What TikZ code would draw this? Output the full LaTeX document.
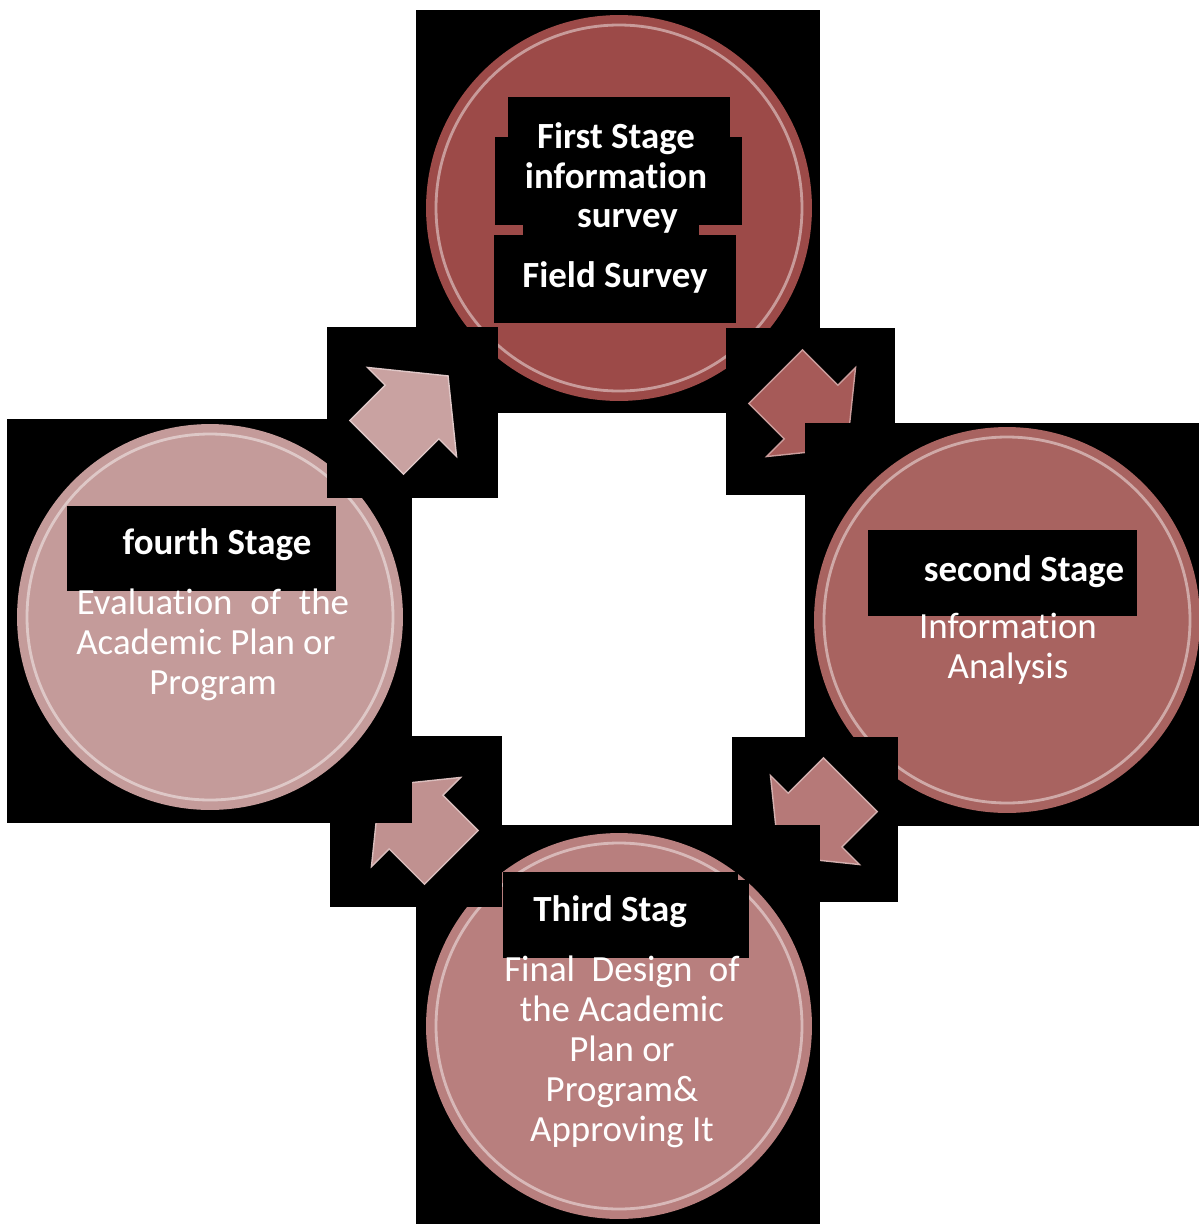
\documentclass[tikz,border=0pt]{standalone}
\usepackage{fontspec}
\setmainfont{Carlito}[Ligatures=NoCommon]
\usetikzlibrary{calc}
\definecolor{stageone}{RGB}{156,74,72}
\definecolor{stagetwo}{RGB}{168,99,96}
\definecolor{stagethree}{RGB}{184,127,126}
\definecolor{stagefour}{RGB}{196,155,154}
\definecolor{arrowne}{RGB}{201,162,161}
\definecolor{arrowse}{RGB}{166,90,88}
\definecolor{arrowsw}{RGB}{182,121,120}
\definecolor{arrownw}{RGB}{192,145,144}
\tikzset{
	every path/.style={thick},
	align=center,
	backdrop/.style={
		fill=black,
	},
	stage/.style={
		circle,
		inner sep=0pt,
		minimum size=7.72cm,
	},
	rim/.style={
		draw=white,
		opacity=0.45,
		line width=1.6pt,
	},
	tag/.style={
		text=white,
		font=\bfseries\fontsize{21}{22.7}\selectfont,
	},
	body/.style={
		text=white,
		font=\fontsize{21}{22.7}\selectfont,
	},
	flow/.style={
		fill=#1,
		draw=white!40!#1,
		line width=1pt,
	},
	flowarrow/.pic={
		\path[pic actions] (-50,-38) -- (0,-38) -- (0,-63) -- (51,0) -- (0,63) -- (0,38) -- (-50,38) -- cycle;
	},
}

\begin{document}
\begin{tikzpicture}[x=0.02cm,y=-0.02cm]
		\useasboundingbox (0,0) rectangle (1199,1224);
		\fill[white] (0,0) rectangle (1199,1224);

%********* first stage
		\fill[backdrop] (416,10) rectangle (820,413);
		\node[stage, fill=stageone] (first) at (619,208) {};
		\draw[rim] (first.center) circle[radius=183];
		\fill[backdrop] (508,97) rectangle (730,137);
		\fill[backdrop] (495,137) rectangle (742,225);
		\fill[backdrop] (523,225) rectangle (699,235);
		\fill[backdrop] (494,235) rectangle (736,323);
		\node[tag] (firsttag) at (616,178) {First Stage\\information\\\hspace*{13pt}survey};
		\node[tag] (firstfield) at (615,277) {Field Survey};

%********* arrow to second
		\fill[backdrop] (726,328) rectangle (895,495);
		\pic[flow=arrowse, rotate=-45] (toSecond) at (811,412) {flowarrow};

%********* second stage
		\fill[backdrop] (805,423) rectangle (1199,826);
		\node[stage, fill=stagetwo] (second) at (1007,620) {};
		\draw[rim] (second.center) circle[radius=183];
		\fill[backdrop] (868,530) rectangle (1137,616);
		\node[tag] (secondtag) at (1024,572) {second Stage};
		\node[body] (secondtext) at (1008,649) {Information\\Analysis};

%********* arrow to third
		\fill[backdrop] (732,737) rectangle (898,902);
		\pic[flow=arrowsw, rotate=-135] (toThird) at (815,820) {flowarrow};

%********* third stage
		\fill[backdrop] (416,825) rectangle (820,1224);
		\node[stage, fill=stagethree] (third) at (619,1026) {};
		\draw[rim] (third.center) circle[radius=183];
		\fill[backdrop] (503,872) rectangle (738,958);
		\fill[backdrop] (738,880) rectangle (749,958);
		\node[tag] (thirdtag) at (610,912) {Third Stag};
		\node[body] (thirdtext) at (622,1052) {\makebox[134pt][s]{Final Design of}\\the Academic\\Plan or\\Program\&\\Approving It};

%********* arrow to fourth
		\fill[backdrop] (330,736) rectangle (502,907);
		\pic[flow=arrownw, rotate=135] (toFourth) at (416,822) {flowarrow};

%********* fourth stage
		\fill[backdrop] (7,419) rectangle (412,823);
		\node[stage, fill=stagefour] (fourth) at (210,617) {};
		\draw[rim] (fourth.center) circle[radius=183];
		\fill[backdrop] (67,506) rectangle (336,591);
		\node[tag] (fourthtag) at (217,545) {fourth Stage};
		\node[body] (fourthtext) at (213,645) {\makebox[155pt][s]{Evaluation of the}\\Academic Plan or\hspace*{8pt}\mbox{}\\Program};

%********* arrow back to first
		\fill[backdrop] (327,327) rectangle (498,498);
		\pic[flow=arrowne, rotate=45] (toFirst) at (412,412) {flowarrow};

	\end{tikzpicture}
\end{document}
